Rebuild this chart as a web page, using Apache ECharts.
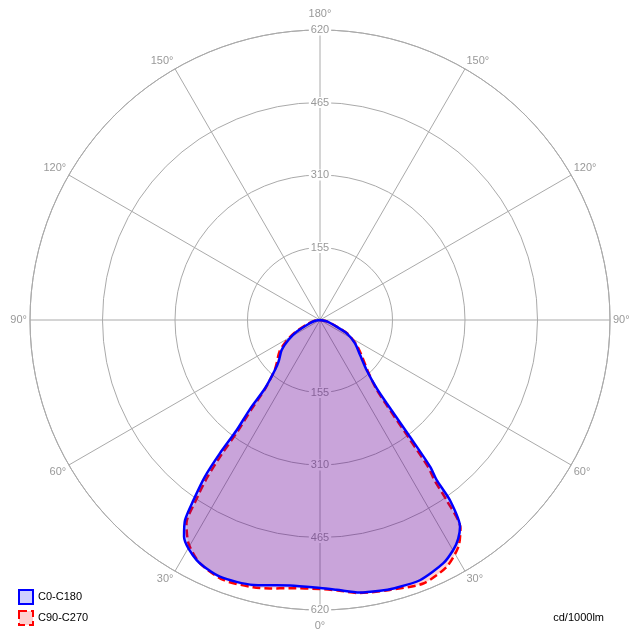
<!DOCTYPE html>
<html><head><meta charset="utf-8">
<script src="https://cdn.jsdelivr.net/npm/echarts@6/dist/echarts.min.js"></script>
<style>html,body{margin:0;padding:0;background:#fff}#c{width:640px;height:640px}</style>
</head><body><div id="c"></div>
<script>
// Radius ticks (cd/1000lm)
const radiusTicks = [155, 310, 465, 620];
const angleTicks = [-180, -150, -120, -90, -60, -30, 0, 30, 60, 90, 120, 150, 180];
// C0 half (drawn on the right), gamma in degrees from nadir
const c0Gamma = [0, 3.5, 8.3, 12.5, 15.3, 21, 26.9, 30.3, 32.3, 34.1, 35.8, 36.1, 36.9, 37.6, 38.7, 39.7, 43, 48.8, 56.3, 63.5, 68, 78, 90];
const c0Cd    = [573, 578, 589, 593, 595, 596, 583, 567, 553, 534, 475, 423, 392, 315, 228, 190, 146, 114, 90, 64, 38, 15, 0];
// C180 half (drawn on the left)
const c180Gamma = [0, 6.4, 10.7, 14.1, 21.3, 27.2, 32.1, 34, 35.1, 36.3, 36.9, 37.1, 38.2, 38.8, 42, 45, 52, 57.8, 63.4, 72, 80, 90];
const c180Cd    = [573, 571, 577, 584, 589, 577, 547, 516, 470, 416, 356, 295, 241, 188, 144, 125, 104, 80, 56, 24, 12, 0];
// C90 half (right)
const c90Gamma = [0, 3.5, 8.3, 14.5, 21.4, 27.2, 31.4, 34, 35.1, 35.5, 36.3, 37, 38.1, 39.2, 43, 48.8, 55.7, 63.5, 68, 78, 90];
const c90Cd    = [575, 579, 590, 596, 605, 593, 568, 537, 470, 423, 392, 315, 228, 190, 150, 120, 95, 66, 40, 16, 0];
// C270 half (left)
const c270Gamma = [0, 6.4, 10.6, 14, 20.4, 26.3, 30.5, 33.3, 34.5, 35.6, 36.2, 36.5, 37.5, 38.5, 42, 45, 52, 57.8, 63.4, 72, 80, 90];
const c270Cd    = [575, 577, 584, 589, 593, 580, 554, 520, 470, 416, 356, 295, 241, 190, 145, 131, 110, 86, 60, 28, 14, 0];

function curve(rg, rc, lg, lc) {
  const out = [];
  for (let i = rg.length - 1; i >= 0; i--) out.push([rc[i], -rg[i]]);
  for (let i = 1; i < lg.length; i++) out.push([lc[i], lg[i]]);
  return out;
}
const blueData = curve(c0Gamma, c0Cd, c180Gamma, c180Cd);
const redData = curve(c90Gamma, c90Cd, c270Gamma, c270Cd);

const gridColor = '#aaaaaa';
const labelColor = '#999999';
const font = 'Liberation Sans';

const chart = echarts.init(document.getElementById('c'), null, {renderer: 'canvas'});
const radiusLabel = {
  show: true, margin: 0, align: 'center', verticalAlign: 'middle', rotate: 0,
  color: labelColor, fontFamily: font, fontSize: 11,
  backgroundColor: '#ffffff', padding: [0, 2],
  formatter: v => (v === 0 ? '' : String(v))
};
chart.setOption({
  animation: false,
  backgroundColor: '#ffffff',
  polar: [
    {center: ['50%', '50%'], radius: 290},
    {center: ['50%', '50%'], radius: 290}
  ],
  angleAxis: [
    {
      polarIndex: 0, type: 'value', min: -180, max: 180, interval: 30, startAngle: 90, clockwise: true,
      axisLine: {show: true, lineStyle: {color: gridColor, width: 1}},
      axisTick: {show: false},
      splitLine: {show: true, lineStyle: {color: gridColor, width: 1}},
      axisLabel: {show: true, margin: 3, color: labelColor, fontFamily: font, fontSize: 11,
        formatter: v => (v === 0 ? '{b|0°}' : (Math.abs(v) === 180 ? '{t|180°}' : Math.abs(v) + '°')),
        rich: {
          b: {padding: [7, 0, 0, 0], color: labelColor, fontFamily: font, fontSize: 11},
          t: {padding: [0, 0, 8, 0], color: labelColor, fontFamily: font, fontSize: 11}
        }}
    },
    {
      polarIndex: 1, type: 'value', min: -180, max: 180, interval: 30, startAngle: 270, clockwise: true,
      axisLine: {show: false}, axisTick: {show: false}, splitLine: {show: false}, axisLabel: {show: false}
    }
  ],
  radiusAxis: [
    {
      polarIndex: 0, type: 'value', min: 0, max: radiusTicks[radiusTicks.length - 1], interval: radiusTicks[0],
      axisLine: {show: false}, axisTick: {show: false},
      splitLine: {show: true, lineStyle: {color: gridColor, width: 1}},
      axisLabel: radiusLabel, z: 1
    },
    {
      polarIndex: 1, type: 'value', min: 0, max: radiusTicks[radiusTicks.length - 1], interval: radiusTicks[0],
      axisLine: {show: false}, axisTick: {show: false}, splitLine: {show: false},
      axisLabel: radiusLabel, z: 1
    }
  ],
  legend: {
    orient: 'vertical', left: 13, bottom: 9, itemWidth: 14, itemHeight: 14, itemGap: 5, icon: 'rect',
    textStyle: {color: '#000', fontFamily: font, fontSize: 11},
    data: [
      {name: 'C0-C180', itemStyle: {color: '#d0d0ff', borderColor: '#0000ff', borderWidth: 2}},
      {name: 'C90-C270', itemStyle: {color: '#ffd0d0', borderColor: '#ff0000', borderWidth: 2, borderType: 'dashed'}}
    ]
  },
  title: {
    text: 'cd/1000lm', right: 31, bottom: 12,
    textStyle: {color: '#000', fontFamily: font, fontSize: 11, fontWeight: 'normal'}
  },
  series: [
    {
      name: 'C90-C270', type: 'line', coordinateSystem: 'polar', polarIndex: 0,
      data: redData, smooth: 0.25, symbol: 'none', z: 3,
      lineStyle: {color: '#ff0000', width: 2.5, type: [8, 4]},
      itemStyle: {color: '#ff0000'},
      areaStyle: {color: 'rgba(255,0,0,0.18)', opacity: 1}
    },
    {
      name: 'C0-C180', type: 'line', coordinateSystem: 'polar', polarIndex: 0,
      data: blueData, smooth: 0.25, symbol: 'none', z: 4,
      lineStyle: {color: '#0000ff', width: 2.5},
      itemStyle: {color: '#0000ff'},
      areaStyle: {color: 'rgba(0,0,255,0.21)', opacity: 1}
    }
  ]
});
</script></body></html>
